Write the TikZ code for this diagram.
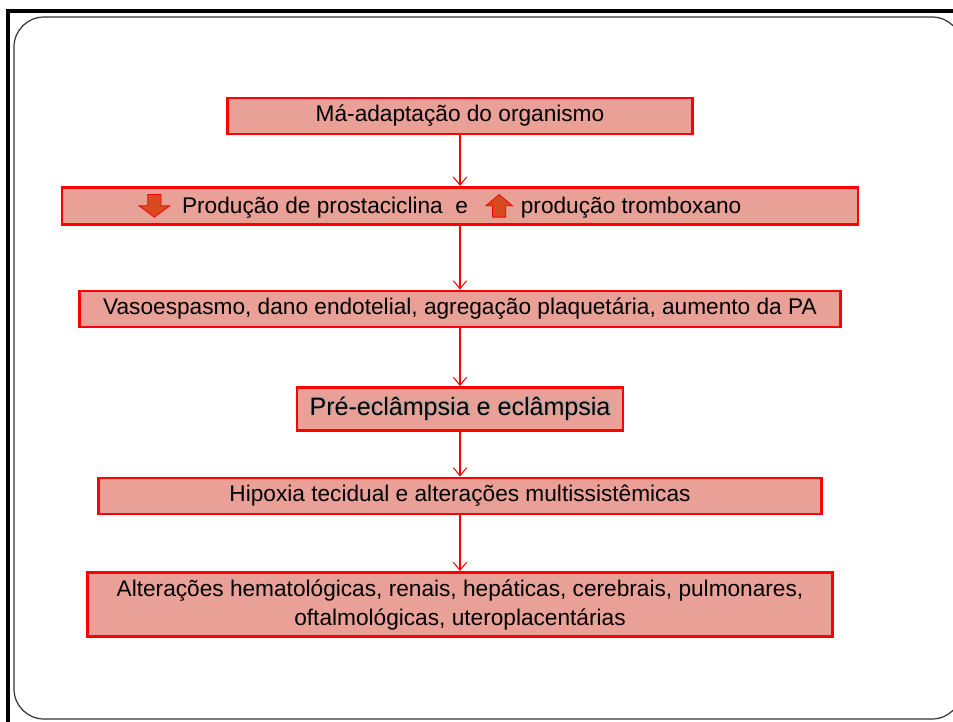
\documentclass[tikz,border=0pt]{standalone}
\usepackage{fontspec}
\setmainfont{Liberation Sans}
\usetikzlibrary{arrows.meta}

\definecolor{caixafill}{RGB}{233,160,151}
\definecolor{setafill}{RGB}{216,74,32}

% small block arrows used inside the second box
\newcommand{\setabaixo}{\tikz[baseline={(0,3pt)}]\draw[red,fill=setafill,line width=0.6pt] (-5pt,17pt) -- (5pt,17pt) -- (5pt,8.5pt) -- (11.5pt,8.5pt) -- (0pt,0pt) -- (-11.5pt,8.5pt) -- (-5pt,8.5pt) -- cycle;}
\newcommand{\setacima}{\tikz[baseline={(0,3pt)}]\draw[red,fill=setafill,line width=0.6pt] (-5pt,0pt) -- (5pt,0pt) -- (5pt,8.5pt) -- (10pt,8.5pt) -- (0pt,17pt) -- (-10pt,8.5pt) -- (-5pt,8.5pt) -- cycle;}

\begin{document}
\begin{tikzpicture}[x=0.75pt,y=0.75pt,yscale=-1,xscale=1,
  caixa/.style={draw=red,line width=2.2pt,fill=caixafill,inner sep=0pt,
    font=\fontsize{17}{21.75}\selectfont,text=black,align=center},
  seta/.style={red,line width=0.8pt,-{Straight Barb[length=6pt,width=10pt,line width=0.8pt]}}]
\useasboundingbox (0,0) rectangle (953,721);
\clip (0,0) rectangle (953,721);

%Shape: frame
\draw[line width=2.3pt] (8,725) -- (8,11) -- (960,11) ;
%Shape: Rounded Rectangle
\draw[black!80,line width=0.9pt,rounded corners=22.5pt] (14,719) -- (14,17) -- (962,17) -- (962,719) -- cycle ;

% Text Node
\node (adaptacao) [caixa,minimum width=348.75pt,minimum height=27pt] at (460,116) {Má-adaptação do organismo};
% Text Node
\node (producao) [caixa,minimum width=597pt,minimum height=28pt] at (460,206)
  {\setabaixo\hspace{9pt}Produção de prostaciclina \ e\hspace{13pt}\setacima\hspace{6pt}produção tromboxano\hspace*{30pt}};
% Text Node
\node (vasoespasmo) [caixa,minimum width=570.75pt,minimum height=27pt] at (460,309) {Vasoespasmo, dano endotelial, agregação plaquetária, aumento da PA};
% Text Node
\node (eclampsia) [caixa,minimum width=244.5pt,minimum height=32.25pt,font=\fontsize{18.8}{22}\selectfont,
  path picture={\node[text=black!35,font=\fontsize{18.8}{22}\selectfont] at ([shift={(1pt,1pt)}]path picture bounding box.center) {Pré-eclâmpsia e eclâmpsia};}]
  at (460,409) {Pré-eclâmpsia e eclâmpsia};
% Text Node
\node (hipoxia) [caixa,minimum width=542.25pt,minimum height=27pt] at (460,496) {Hipoxia tecidual e alterações multissistêmicas};
% Text Node
\node (alteracoes) [caixa,minimum width=558.75pt,minimum height=48pt] at (460,604.5) {Alterações hematológicas, renais, hepáticas, cerebrais, pulmonares,\\oftalmológicas, uteroplacentárias};

%Straight Lines
\draw[seta] (adaptacao) -- (producao) ;
\draw[seta] (producao) -- (vasoespasmo) ;
\draw[seta] (vasoespasmo) -- (eclampsia) ;
\draw[seta] (eclampsia) -- (hipoxia) ;
\draw[seta] (hipoxia) -- (alteracoes) ;

\end{tikzpicture}
\end{document}
